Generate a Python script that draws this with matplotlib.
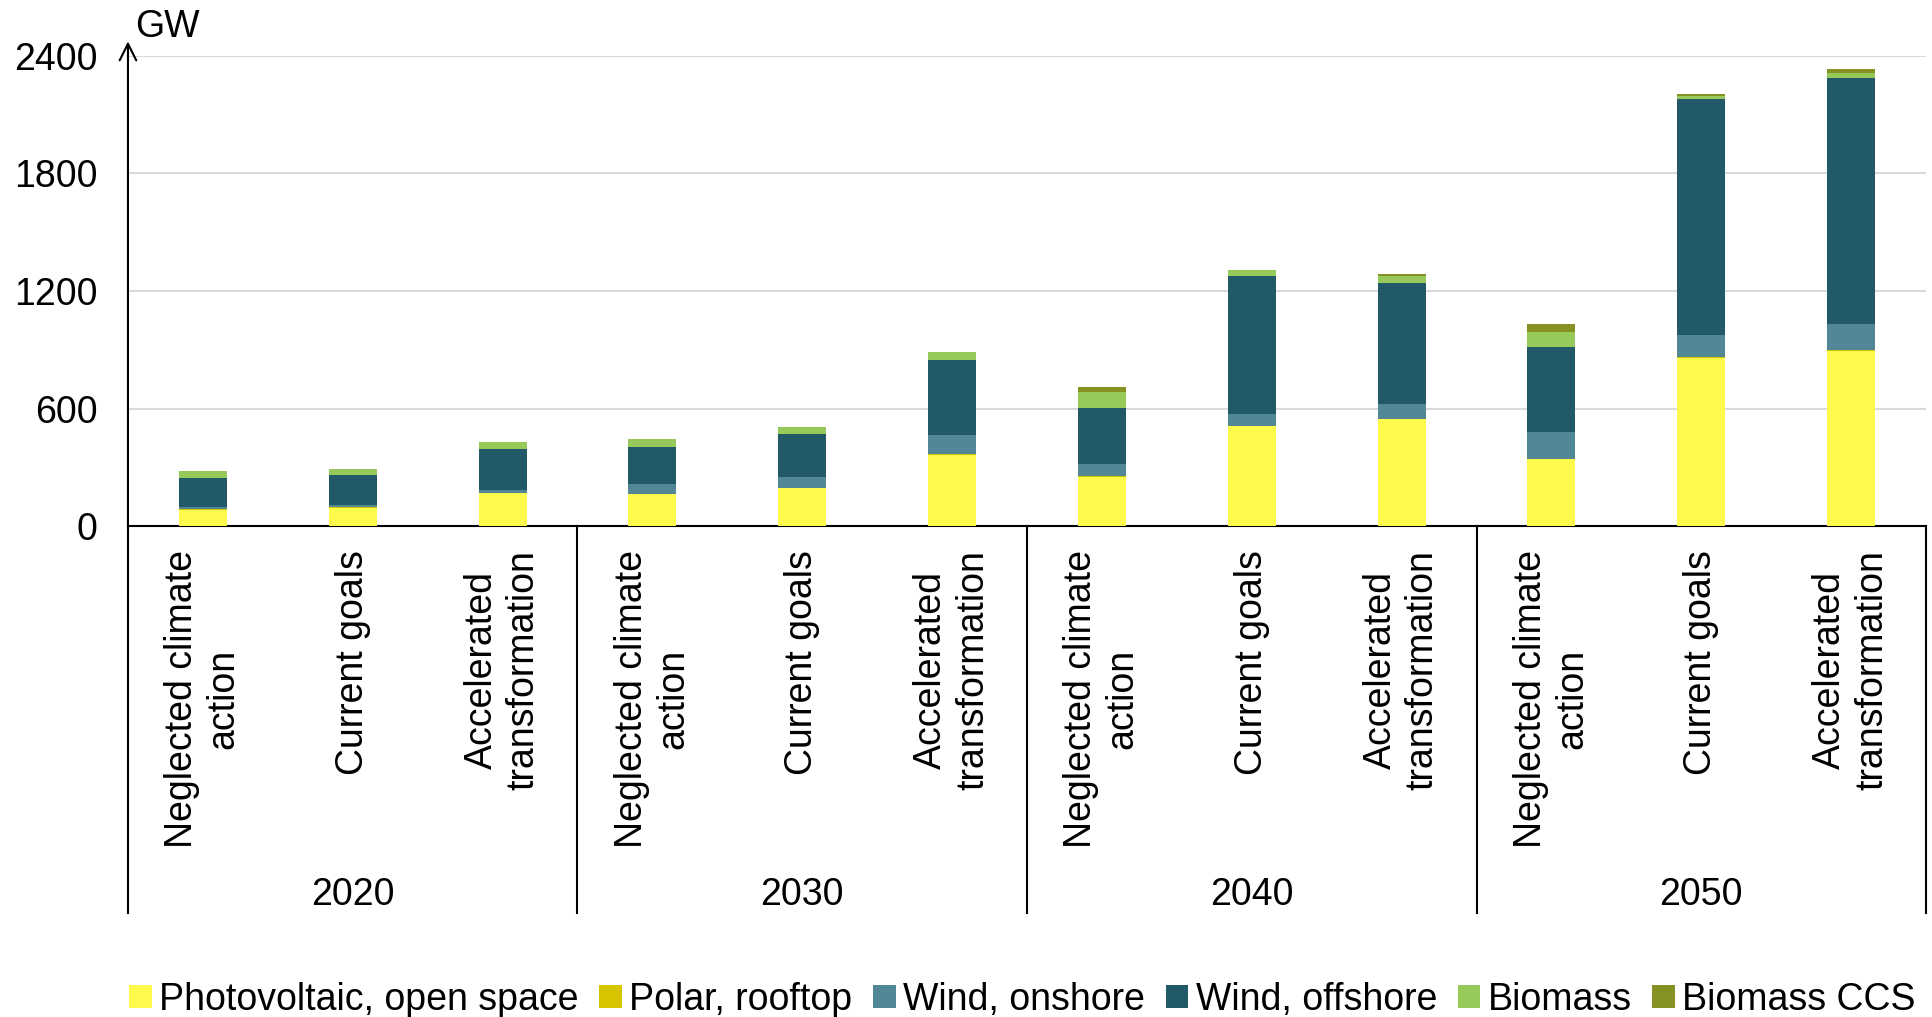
import matplotlib.pyplot as plt
import numpy as np

plt.rcParams['font.family'] = ['Liberation Sans', 'DejaVu Sans']

years = ["2020", "2030", "2040", "2050"]
scenarios = ["Neglected climate\naction", "Current goals", "Accelerated\ntransformation"]

# GW per bar, order: 2020 x3, 2030 x3, 2040 x3, 2050 x3
pv_open = [86, 95, 170, 165, 196, 365, 254, 511, 545, 342, 860, 896]
pv_roof = [2, 2, 2, 2, 2, 2, 2, 3, 4, 2, 3, 3]
wind_on = [12, 12, 12, 49, 53, 100, 61, 58, 76, 135, 113, 134]
wind_off = [149, 151, 209, 191, 221, 380, 287, 703, 616, 435, 1201, 1255]
biomass = [32, 31, 35, 41, 33, 41, 79, 30, 34, 79, 16, 22]
biomass_ccs = [0, 0, 0, 0, 0, 0, 28, 0, 12, 40, 13, 19]

series = [
    ("Photovoltaic, open space", pv_open, "#FDFA4C"),
    ("Polar, rooftop", pv_roof, "#D6C400"),
    ("Wind, onshore", wind_on, "#528796"),
    ("Wind, offshore", wind_off, "#225968"),
    ("Biomass", biomass, "#96C95A"),
    ("Biomass CCS", biomass_ccs, "#869124"),
]

fig = plt.figure(figsize=(19.33, 10.17), dpi=100)
ax = fig.add_axes([0.0662, 0.4824, 0.9302, 0.463])

n = len(pv_open)
x = np.arange(n)
bottom = np.zeros(n)
handles = []
for name, vals, col in series:
    b = ax.bar(x, vals, width=0.32, bottom=bottom, color=col, label=name, zorder=3)
    handles.append(b)
    bottom += np.array(vals)

ax.set_xlim(-0.5, n - 0.5)
ax.set_ylim(0, 2400)
ax.set_yticks([0, 600, 1200, 1800, 2400])
ax.tick_params(axis='y', length=0, labelsize=27, pad=22)
ax.yaxis.grid(True, color="#D9D9D9", linewidth=1.5, zorder=0)
for s in ["top", "right", "left"]:
    ax.spines[s].set_visible(False)
ax.spines["bottom"].set_linewidth(1.5)

ax.set_xticks(x)
ax.set_xticklabels(scenarios * len(years), rotation=90, fontsize=27, va='top', ha='center')
ax.tick_params(axis='x', length=0, pad=17)

# y axis arrow
ax.annotate("", xy=(0, 1.03), xytext=(0, 0), xycoords='axes fraction',
            arrowprops=dict(arrowstyle="->", lw=1.5, color="black",
                            mutation_scale=30, shrinkA=0, shrinkB=0))
ax.text(0.004, 1.04, "GW", transform=ax.transAxes, fontsize=27, va='baseline', ha='left')

# group separators and year labels
trans = ax.get_xaxis_transform()
for i in range(len(years) + 1):
    xs = i * 3 - 0.5
    ax.plot([xs, xs], [0, -0.82], transform=trans, color="black", lw=1.5, clip_on=False)
for i, yr in enumerate(years):
    ax.text(i * 3 + 1, -0.783, yr, transform=trans, ha='center', va='center', fontsize=27)

fig.legend(handles=handles, labels=[s[0] for s in series], loc='center',
           bbox_to_anchor=(0.529, 0.017), ncol=6, frameon=False, fontsize=27,
           handlelength=0.6, handleheight=0.6, handletextpad=0.2, columnspacing=0.55)

fig.savefig("out.png", dpi=100, facecolor="white")
